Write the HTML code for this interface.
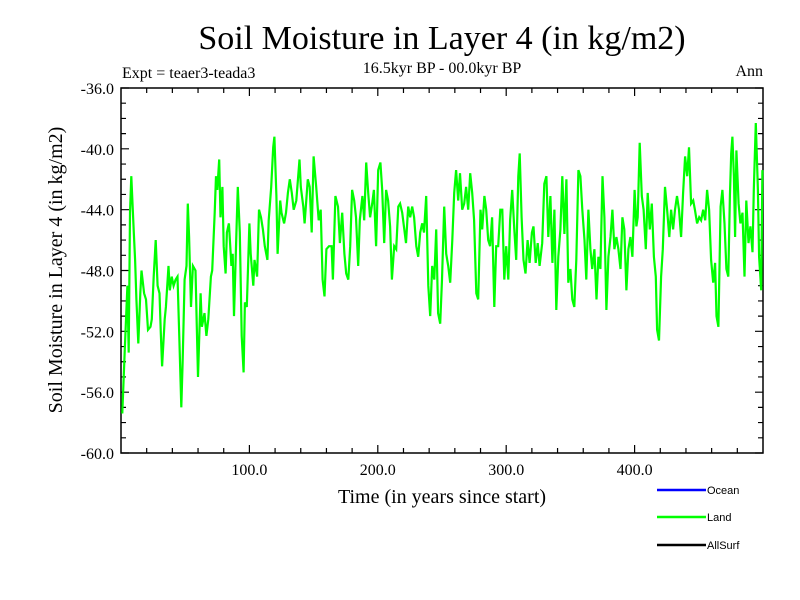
<!DOCTYPE html>
<html><head><meta charset="utf-8"><style>
body{margin:0;background:#fff}
svg{display:block}
text{font-family:"Liberation Serif",serif}
</style></head><body>
<svg id="chart" width="800" height="600">
<text x="442" y="49" font-size="34" text-anchor="middle">Soil Moisture in Layer 4 (in kg/m2)</text>
<text x="442" y="73" font-size="16" text-anchor="middle">16.5kyr BP - 00.0kyr BP</text>
<text x="122" y="78" font-size="16">Expt = teaer3-teada3</text>
<text x="763" y="76" font-size="16" text-anchor="end">Ann</text>
<text x="442" y="503" font-size="20" text-anchor="middle">Time (in years since start)</text>
<text transform="translate(62,270) rotate(-90)" font-size="20" text-anchor="middle">Soil Moisture in Layer 4 (in kg/m2)</text>
<g id="axes"></g>
<g id="series"></g>
<g>
<g><line x1="657" y1="490" x2="706" y2="490" stroke="#0000ff" stroke-width="2.5"/><text x="707" y="494" font-size="11" style="font-family:'Liberation Sans',sans-serif">Ocean</text></g>
<g><line x1="657" y1="517" x2="706" y2="517" stroke="#00ff00" stroke-width="2.5"/><text x="707" y="521" font-size="11" style="font-family:'Liberation Sans',sans-serif">Land</text></g>
<g><line x1="657" y1="545" x2="706" y2="545" stroke="#000" stroke-width="2.5"/><text x="707" y="549" font-size="11" style="font-family:'Liberation Sans',sans-serif">AllSurf</text></g>
</g>
</svg>
<script>
const years=[1,3,5,6,7,8,10,11,12,13.5,15,16,18,19.5,21,23,24,25.5,27,28.5,30,31,32,34,35,37,38,39.5,41,42.5,44,45.5,47,48,49.5,51,52,53,54.5,56,58,59,60,62,63,65,66.5,68,70,71,73,74,75,76.5,77.5,79,80,81.5,82.5,84,86,87,88,90,91,92.5,94,95.5,96.5,98,100,101,103,104,106,107.5,109,110.5,112,114,115,117,118.5,119.5,121,122,124,125,127,128.5,130,131.5,133,134.5,136.5,139,140,142,143,145.5,147,148.5,150,152,154,155.5,157,158.5,160,162,164,165,167,169,170.5,172.3,174,175.4,177,178.5,180,181.6,183,184.7,186,188,189.4,191,192.5,194,195.6,197,198.7,200.3,202,203.4,205,206.5,208,209.6,211,212.8,214.3,216,217.4,219,220.6,222,223.7,225.2,226.8,228.3,230,231.5,233,234.6,236,237.7,239.3,240.8,242.4,244,245.5,247,248.6,250,251.7,253.3,254.8,256.4,258,259.5,261,262.6,264,265.7,267.3,268.8,270.4,272,273.5,275,276.7,278.2,280,281.3,283,284.4,286,287.5,289,290.7,292.2,293.8,295.4,297,298.5,300,301.6,303,304.7,306.3,307.8,309.4,310.5,312,313.5,315,316.7,318.2,320,321.3,323,324.5,326,328,329.7,331.3,332.8,334.4,336,337.5,339,340.6,342.2,343.7,345.3,346.9,348.4,350,351.5,353,354.6,356.2,357.8,359.3,361,362.4,364,365.6,367,368.7,370.3,371.8,373.4,375,376.5,378,379.6,381.2,382.7,384.3,385.8,387.4,389,390.5,392,393.6,395.2,396.7,398.3,400,401.4,402.4,404,405.6,407,408.7,410.2,411.8,413.4,415,416.5,417.5,419,420.6,422,423.7,425.3,427,428.4,430,431.5,433,434.6,436.2,437.8,439.3,441,442.4,444,445.6,447,448.7,450.3,451.8,453.4,455,456.5,458,459.6,461.2,462.7,463.8,465.3,467,468.4,470,471.5,473,474.2,475.2,476.2,477.3,478.3,479.3,481,482.4,484,485.6,487,488.7,490.2,491.8,492.8,494.4,496,497,498.6,499.5];
const landValues=[-57.4,-53,-49,-53.4,-44.2,-41.8,-45.5,-47.3,-49.9,-52.8,-49.5,-48,-49.5,-49.9,-51.9,-51.7,-51.2,-48.4,-46,-49,-49.5,-52.1,-54.3,-51.2,-50.4,-47.7,-49.3,-48.4,-49,-48.6,-48.4,-52.6,-57,-54.1,-48.6,-47.7,-43.6,-45.8,-50.4,-47.7,-48,-51.7,-55,-49.5,-51.7,-50.8,-52.3,-51.2,-48.4,-48,-44.2,-41.8,-42.7,-40.7,-44.5,-42.5,-46.4,-48.2,-45.5,-44.9,-47.7,-46.9,-51,-45.1,-42.5,-45.5,-52.3,-54.7,-50.1,-50.4,-44.9,-46.9,-49,-47.3,-48.4,-44,-44.5,-45.3,-46.4,-47.3,-44.7,-42.5,-39.9,-39.2,-43.1,-46.9,-43.4,-44.2,-44.9,-44.2,-42.9,-42,-42.9,-44,-43.4,-40.7,-42.5,-43.8,-44.9,-42,-42.5,-45.5,-40.5,-42.5,-44.7,-44,-48.6,-49.7,-46.6,-46.4,-46.4,-48.6,-43.1,-43.8,-46.2,-44.2,-46.9,-48.2,-48.6,-46.4,-42.7,-43.4,-44.5,-47.7,-44.7,-43.1,-44.7,-40.9,-42.9,-44.5,-43.6,-42.7,-46.4,-41.4,-40.9,-42.7,-46.2,-42.7,-43.4,-45.1,-48.6,-46.4,-46.6,-43.8,-43.6,-44.2,-45.3,-46.2,-43.8,-44.5,-43.8,-44.5,-46.4,-47.1,-45.5,-44.9,-45.5,-43.1,-49,-51,-47.7,-48.6,-45.3,-50.8,-51.5,-48.6,-43.8,-46.9,-47.7,-48.8,-46,-42.9,-41.4,-43.4,-41.6,-44,-43.6,-42.5,-44,-41.6,-42.9,-44.7,-49.5,-49.9,-44,-45.3,-43.1,-44,-46,-46.4,-44.5,-50.4,-46.4,-46.4,-44,-44,-48.6,-46.4,-48.6,-44.7,-42.7,-45.3,-47.3,-41.8,-40.3,-44.5,-47.3,-48.2,-46,-47.5,-45.5,-45.1,-47.5,-46.2,-47.7,-46.2,-42.3,-41.8,-45.8,-43.1,-47.5,-44,-50.6,-47.1,-45.3,-41.8,-45.6,-42,-48.8,-47.9,-49.9,-50.4,-47.3,-41.4,-41.8,-44,-46,-48.6,-44,-46.6,-47.9,-46.6,-49.9,-47.1,-47.9,-41.8,-44.5,-50.6,-47.1,-45.8,-44,-46.6,-45.8,-46.6,-47.9,-44.5,-45.3,-49.3,-46.6,-45.8,-47.1,-42.7,-45.1,-44.5,-39.6,-43.1,-44,-46.6,-42.9,-45.3,-43.6,-47.1,-48.4,-51.9,-52.6,-48.4,-46.6,-42.5,-44,-45.8,-44,-45.3,-44,-43.1,-44,-45.8,-42.9,-40.5,-41.8,-39.9,-43.6,-43.4,-44,-44.9,-44.5,-44.7,-44,-44.7,-42.7,-44,-47.3,-48.8,-47.5,-51,-51.7,-43.8,-42.7,-44.9,-47.9,-48.4,-43.1,-40.3,-39.2,-41.8,-45.8,-40.1,-43.6,-44.9,-44.2,-48.4,-43.4,-46.2,-45.1,-46.8,-42.7,-38.3,-42.7,-47.1,-49.3,-41.4,-49];
const yTicks=[-36,-40,-44,-48,-52,-56,-60];
const xTicks=[100,200,300,400];
const L=121,R=763,T=88,B=453,X0=0,X1=500,Y0=-60,Y1=-36;
const sx=v=>L+(v-X0)/(X1-X0)*(R-L);
const sy=v=>B-(v-Y0)/(Y1-Y0)*(B-T);
const NS='http://www.w3.org/2000/svg';
const ax=document.getElementById('axes');
function mk(tag,at,parent){const e=document.createElementNS(NS,tag);for(const k in at)e.setAttribute(k,at[k]);parent.appendChild(e);return e;}
const frame=mk('rect',{x:L,y:T,width:R-L,height:B-T,fill:'none',stroke:'#000','stroke-width':1.5},ax);


let tp='';
for(let v=Y0;v<=Y1;v+=1){const y=sy(v);const len=(v%4===0)?8:5;tp+=`M${L} ${y}h${len}M${R} ${y}h${-len}`;}
for(let v=20;v<X1;v+=20){const x=sx(v);const len=(v%100===0)?8:5;tp+=`M${x} ${B}v${-len}M${x} ${T}v${len}`;}
const ticks=mk('path',{d:tp,stroke:'#000','stroke-width':1.2,fill:'none'},ax);


yTicks.forEach(v=>{const t=mk('text',{x:L-7,y:sy(v)+6,'font-size':16,'text-anchor':'end'},ax);t.textContent=v.toFixed(1);

});
xTicks.forEach(v=>{const t=mk('text',{x:sx(v),y:B+22,'font-size':16,'text-anchor':'middle'},ax);t.textContent=v.toFixed(1);

});
const d=years.map((yr,i)=>(i?'L':'M')+sx(yr).toFixed(1)+' '+sy(landValues[i]).toFixed(1)).join('');
const line=mk('path',{d:d,stroke:'#00ff00','stroke-width':2.2,fill:'none','stroke-linejoin':'miter'},document.getElementById('series'));


</script>
</body></html>
